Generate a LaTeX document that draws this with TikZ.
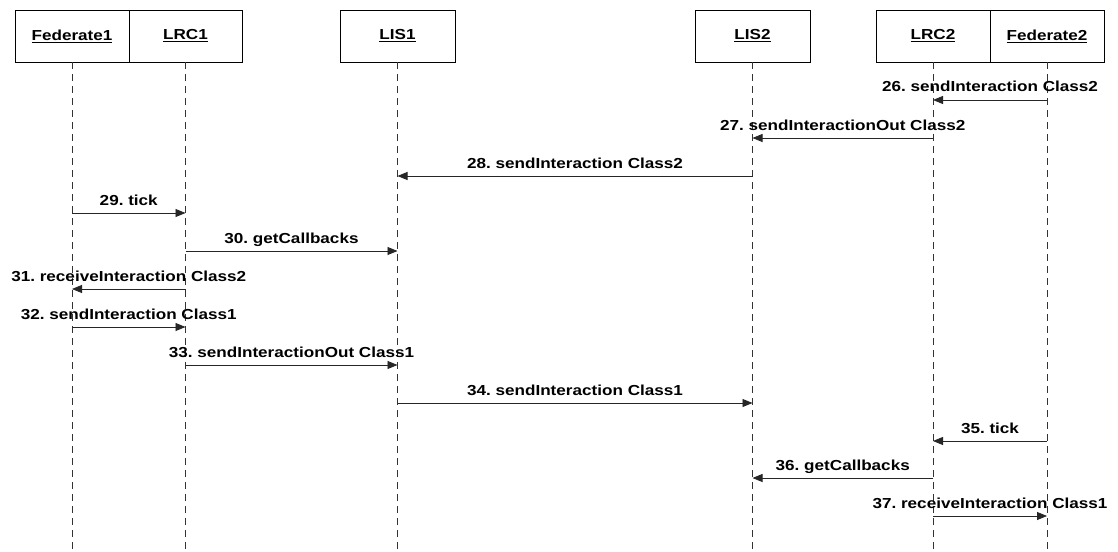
\documentclass[tikz,border=0pt]{standalone}
\usepackage{fontspec}
\setmainfont{Liberation Sans}[FakeStretch=1.18]
\usetikzlibrary{arrows.meta}
\begin{document}
\frenchspacing
\begin{tikzpicture}[x=1pt,y=-1pt,
  every node/.style={font=\fontsize{14.5}{16}\selectfont\bfseries},
  objbox/.style={draw=black, line width=0.8pt, minimum height=52pt, inner sep=0pt},
  lifeline/.style={draw=black!80, line width=0.8pt, dash pattern=on 7pt off 5pt},
  msg/.style={draw=black!85, line width=0.8pt, -{Triangle[length=10pt,width=8pt]}},
  lab/.style={anchor=base, yshift=8pt, inner sep=0pt}]
\useasboundingbox (0,0) rectangle (1118,551);
\fill[white] (0,0) rectangle (1118,551);

% object boxes
\node[objbox, minimum width=114pt] (fed1) at (72,36)    {\underline{Federate1}};
\node[objbox, minimum width=113pt] (lrc1) at (185.5,36) {\underline{LRC1}};
\node[objbox, minimum width=115pt] (lis1) at (397.5,36) {\underline{LIS1}};
\node[objbox, minimum width=115pt] (lis2) at (752.5,36) {\underline{LIS2}};
\node[objbox, minimum width=114pt] (lrc2) at (933,36)   {\underline{LRC2}};
\node[objbox, minimum width=114pt] (fed2) at (1047,36)  {\underline{Federate2}};

% lifelines
\coordinate (end) at (0,551);
\foreach \o in {fed1,lrc1,lis1,lis2,lrc2,fed2}
  \draw[lifeline] (\o.south) -- (\o.south |- end);

% message rows
\foreach \n/\y in {26/100,27/138,28/176,29/213,30/251,31/289,32/327,33/365,34/403,35/441,36/478,37/516}
  \coordinate (r\n) at (0,\y);

\draw[msg] (fed2 |- r26) -- node[lab]{26. sendInteraction Class2} (lrc2 |- r26);
\draw[msg] (lrc2 |- r27) -- node[lab]{27. sendInteractionOut Class2} (lis2 |- r27);
\draw[msg] (lis2 |- r28) -- node[lab]{28. sendInteraction Class2} (lis1 |- r28);
\draw[msg] (fed1 |- r29) -- node[lab]{29. tick} (lrc1 |- r29);
\draw[msg] (lrc1 |- r30) -- node[lab]{30. getCallbacks} (lis1 |- r30);
\draw[msg] (lrc1 |- r31) -- node[lab]{31. receiveInteraction Class2} (fed1 |- r31);
\draw[msg] (fed1 |- r32) -- node[lab]{32. sendInteraction Class1} (lrc1 |- r32);
\draw[msg] (lrc1 |- r33) -- node[lab]{33. sendInteractionOut Class1} (lis1 |- r33);
\draw[msg] (lis1 |- r34) -- node[lab]{34. sendInteraction Class1} (lis2 |- r34);
\draw[msg] (fed2 |- r35) -- node[lab]{35. tick} (lrc2 |- r35);
\draw[msg] (lrc2 |- r36) -- node[lab]{36. getCallbacks} (lis2 |- r36);
\draw[msg] (lrc2 |- r37) -- node[lab]{37. receiveInteraction Class1} (fed2 |- r37);
\end{tikzpicture}
\end{document}
